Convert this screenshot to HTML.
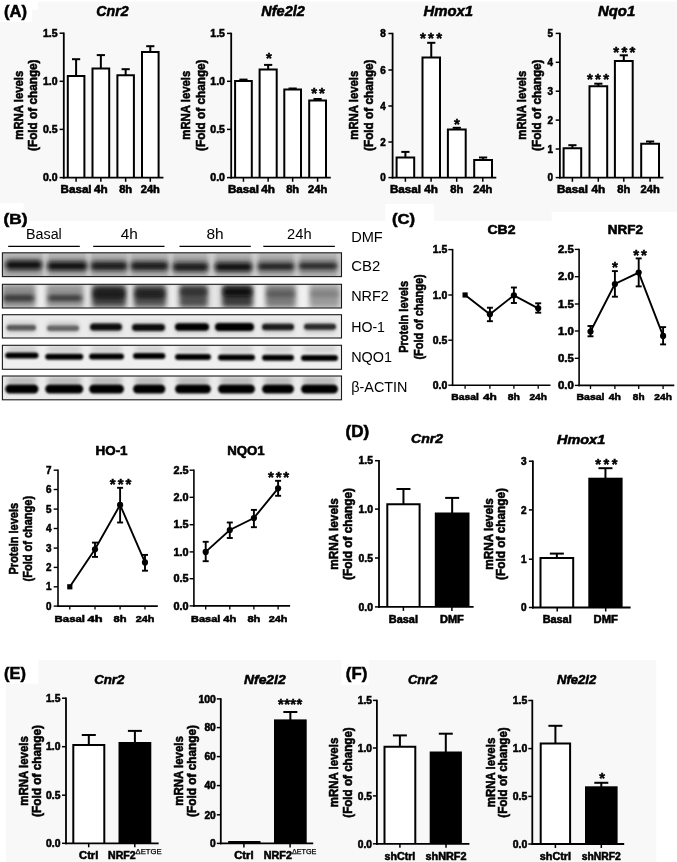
<!DOCTYPE html>
<html><head><meta charset="utf-8"><style>
html,body{margin:0;padding:0;background:#fff;}
svg{display:block;filter:grayscale(1);}
</style></head><body>
<svg width="677" height="862" viewBox="0 0 677 862" font-family='"Liberation Sans", sans-serif'>
<defs><filter id="bl1" x="-20%" y="-60%" width="140%" height="220%"><feGaussianBlur stdDeviation="1.9"/></filter><filter id="bl3" x="-20%" y="-60%" width="140%" height="220%"><feGaussianBlur stdDeviation="1.25"/></filter><filter id="bl2" x="-20%" y="-50%" width="140%" height="200%"><feGaussianBlur stdDeviation="2.6"/></filter></defs>
<rect x="0.00" y="0.00" width="677.00" height="862.00" fill="#ffffff" />
<rect x="0.00" y="0.00" width="677.00" height="203.00" fill="#f8f8f8" />
<rect x="0.00" y="0.00" width="677.00" height="1.50" fill="#ffffff" />
<rect x="0.00" y="0.00" width="38.00" height="10.00" fill="#ffffff" />
<rect x="0.00" y="0.00" width="32.00" height="22.00" fill="#ffffff" />
<rect x="23.60" y="203.00" width="528.10" height="18.00" fill="#f8f8f8" />
<rect x="551.70" y="203.00" width="125.30" height="9.00" fill="#f8f8f8" />
<rect x="385.30" y="204.00" width="48.80" height="17.00" fill="#ffffff" />
<rect x="5.90" y="660.00" width="650.40" height="202.00" fill="#f8f8f8" />
<rect x="0.00" y="660.00" width="38.40" height="23.70" fill="#ffffff" />
<rect x="341.40" y="660.00" width="27.30" height="25.00" fill="#ffffff" />
<text x="4.00" y="17.40" font-size="17" text-anchor="start" font-weight="bold" font-style="normal" fill="#000" stroke="#000" stroke-width="0.55" textLength="23.00" lengthAdjust="spacingAndGlyphs" >(A)</text>
<text x="3.50" y="223.60" font-size="15.5" text-anchor="start" font-weight="bold" font-style="normal" fill="#000" stroke="#000" stroke-width="0.55" textLength="24.00" lengthAdjust="spacingAndGlyphs" >(B)</text>
<text x="391.90" y="224.30" font-size="15.5" text-anchor="start" font-weight="bold" font-style="normal" fill="#000" stroke="#000" stroke-width="0.55" textLength="23.20" lengthAdjust="spacingAndGlyphs" >(C)</text>
<text x="345.60" y="436.80" font-size="16" text-anchor="start" font-weight="bold" font-style="normal" fill="#000" stroke="#000" stroke-width="0.55" textLength="23.60" lengthAdjust="spacingAndGlyphs" >(D)</text>
<text x="4.10" y="678.60" font-size="17" text-anchor="start" font-weight="bold" font-style="normal" fill="#000" stroke="#000" stroke-width="0.55" textLength="21.90" lengthAdjust="spacingAndGlyphs" >(E)</text>
<text x="345.80" y="679.00" font-size="17" text-anchor="start" font-weight="bold" font-style="normal" fill="#000" stroke="#000" stroke-width="0.55" textLength="21.50" lengthAdjust="spacingAndGlyphs" >(F)</text>
<line x1="76.10" y1="59.20" x2="76.10" y2="76.10" stroke="#000" stroke-width="2.0"/>
<line x1="72.00" y1="59.20" x2="80.20" y2="59.20" stroke="#000" stroke-width="2.0"/>
<path d="M67.80,177.60 V76.10 H84.40 V177.60" fill="#fff" stroke="#000" stroke-width="2.0"/>
<line x1="100.85" y1="55.10" x2="100.85" y2="68.60" stroke="#000" stroke-width="2.0"/>
<line x1="96.75" y1="55.10" x2="104.95" y2="55.10" stroke="#000" stroke-width="2.0"/>
<path d="M92.50,177.60 V68.60 H109.20 V177.60" fill="#fff" stroke="#000" stroke-width="2.0"/>
<line x1="125.65" y1="69.20" x2="125.65" y2="75.30" stroke="#000" stroke-width="2.0"/>
<line x1="121.55" y1="69.20" x2="129.75" y2="69.20" stroke="#000" stroke-width="2.0"/>
<path d="M117.40,177.60 V75.30 H133.90 V177.60" fill="#fff" stroke="#000" stroke-width="2.0"/>
<line x1="150.30" y1="46.20" x2="150.30" y2="51.90" stroke="#000" stroke-width="2.0"/>
<line x1="146.20" y1="46.20" x2="154.40" y2="46.20" stroke="#000" stroke-width="2.0"/>
<path d="M142.00,177.60 V51.90 H158.60 V177.60" fill="#fff" stroke="#000" stroke-width="2.0"/>
<line x1="63.80" y1="32.50" x2="63.80" y2="178.50" stroke="#000" stroke-width="1.8"/>
<line x1="62.90" y1="177.60" x2="163.40" y2="177.60" stroke="#000" stroke-width="1.8"/>
<line x1="59.60" y1="33.20" x2="63.80" y2="33.20" stroke="#000" stroke-width="1.5"/>
<text x="57.50" y="37.00" font-size="10.5" text-anchor="end" font-weight="bold" font-style="normal" fill="#000" stroke="#000" stroke-width="0.55" textLength="14.60" lengthAdjust="spacingAndGlyphs" >1.5</text>
<line x1="59.60" y1="81.30" x2="63.80" y2="81.30" stroke="#000" stroke-width="1.5"/>
<text x="57.50" y="85.10" font-size="10.5" text-anchor="end" font-weight="bold" font-style="normal" fill="#000" stroke="#000" stroke-width="0.55" textLength="14.60" lengthAdjust="spacingAndGlyphs" >1.0</text>
<line x1="59.60" y1="129.40" x2="63.80" y2="129.40" stroke="#000" stroke-width="1.5"/>
<text x="57.50" y="133.20" font-size="10.5" text-anchor="end" font-weight="bold" font-style="normal" fill="#000" stroke="#000" stroke-width="0.55" textLength="14.60" lengthAdjust="spacingAndGlyphs" >0.5</text>
<line x1="59.60" y1="177.60" x2="63.80" y2="177.60" stroke="#000" stroke-width="1.5"/>
<text x="57.50" y="181.40" font-size="10.5" text-anchor="end" font-weight="bold" font-style="normal" fill="#000" stroke="#000" stroke-width="0.55" textLength="14.60" lengthAdjust="spacingAndGlyphs" >0.0</text>
<line x1="76.10" y1="177.60" x2="76.10" y2="181.80" stroke="#000" stroke-width="1.5"/>
<line x1="100.85" y1="177.60" x2="100.85" y2="181.80" stroke="#000" stroke-width="1.5"/>
<line x1="125.65" y1="177.60" x2="125.65" y2="181.80" stroke="#000" stroke-width="1.5"/>
<line x1="150.30" y1="177.60" x2="150.30" y2="181.80" stroke="#000" stroke-width="1.5"/>
<text x="96.30" y="16.20" font-size="15" text-anchor="start" font-weight="bold" font-style="italic" fill="#000" stroke="#000" stroke-width="0.55" textLength="32.30" lengthAdjust="spacingAndGlyphs" >Cnr2</text>
<text x="76.10" y="192.90" font-size="10.2" text-anchor="middle" font-weight="bold" font-style="normal" fill="#000" stroke="#000" stroke-width="0.55" textLength="31.00" lengthAdjust="spacingAndGlyphs" >Basal</text>
<text x="100.85" y="192.90" font-size="10.2" text-anchor="middle" font-weight="bold" font-style="normal" fill="#000" stroke="#000" stroke-width="0.55" textLength="13.70" lengthAdjust="spacingAndGlyphs" >4h</text>
<text x="125.65" y="192.90" font-size="10.2" text-anchor="middle" font-weight="bold" font-style="normal" fill="#000" stroke="#000" stroke-width="0.55" textLength="13.00" lengthAdjust="spacingAndGlyphs" >8h</text>
<text x="150.30" y="192.90" font-size="10.2" text-anchor="middle" font-weight="bold" font-style="normal" fill="#000" stroke="#000" stroke-width="0.55" textLength="19.20" lengthAdjust="spacingAndGlyphs" >24h</text>
<text transform="translate(23.00,105.20) rotate(-90)" x="0" y="0" font-size="13.0" text-anchor="middle" font-weight="bold" stroke="#000" stroke-width="0.55" textLength="69.00" lengthAdjust="spacingAndGlyphs">mRNA levels</text>
<text transform="translate(36.60,105.20) rotate(-90)" x="0" y="0" font-size="12.4" text-anchor="middle" font-weight="bold" stroke="#000" stroke-width="0.55" textLength="91.50" lengthAdjust="spacingAndGlyphs">(Fold of change)</text>
<line x1="243.45" y1="79.60" x2="243.45" y2="81.10" stroke="#000" stroke-width="2.0"/>
<line x1="239.35" y1="79.60" x2="247.55" y2="79.60" stroke="#000" stroke-width="2.0"/>
<path d="M235.10,177.60 V81.10 H251.80 V177.60" fill="#fff" stroke="#000" stroke-width="2.0"/>
<line x1="268.15" y1="64.90" x2="268.15" y2="69.60" stroke="#000" stroke-width="2.0"/>
<line x1="264.05" y1="64.90" x2="272.25" y2="64.90" stroke="#000" stroke-width="2.0"/>
<path d="M259.60,177.60 V69.60 H276.70 V177.60" fill="#fff" stroke="#000" stroke-width="2.0"/>
<line x1="292.65" y1="88.50" x2="292.65" y2="89.60" stroke="#000" stroke-width="2.0"/>
<line x1="288.55" y1="88.50" x2="296.75" y2="88.50" stroke="#000" stroke-width="2.0"/>
<path d="M284.30,177.60 V89.60 H301.00 V177.60" fill="#fff" stroke="#000" stroke-width="2.0"/>
<line x1="317.60" y1="99.00" x2="317.60" y2="100.60" stroke="#000" stroke-width="2.0"/>
<line x1="313.50" y1="99.00" x2="321.70" y2="99.00" stroke="#000" stroke-width="2.0"/>
<path d="M309.20,177.60 V100.60 H326.00 V177.60" fill="#fff" stroke="#000" stroke-width="2.0"/>
<line x1="231.20" y1="32.70" x2="231.20" y2="178.50" stroke="#000" stroke-width="1.8"/>
<line x1="230.30" y1="177.60" x2="330.80" y2="177.60" stroke="#000" stroke-width="1.8"/>
<line x1="227.00" y1="33.40" x2="231.20" y2="33.40" stroke="#000" stroke-width="1.5"/>
<text x="224.90" y="37.20" font-size="10.5" text-anchor="end" font-weight="bold" font-style="normal" fill="#000" stroke="#000" stroke-width="0.55" textLength="14.60" lengthAdjust="spacingAndGlyphs" >1.5</text>
<line x1="227.00" y1="81.30" x2="231.20" y2="81.30" stroke="#000" stroke-width="1.5"/>
<text x="224.90" y="85.10" font-size="10.5" text-anchor="end" font-weight="bold" font-style="normal" fill="#000" stroke="#000" stroke-width="0.55" textLength="14.60" lengthAdjust="spacingAndGlyphs" >1.0</text>
<line x1="227.00" y1="129.40" x2="231.20" y2="129.40" stroke="#000" stroke-width="1.5"/>
<text x="224.90" y="133.20" font-size="10.5" text-anchor="end" font-weight="bold" font-style="normal" fill="#000" stroke="#000" stroke-width="0.55" textLength="14.60" lengthAdjust="spacingAndGlyphs" >0.5</text>
<line x1="227.00" y1="177.60" x2="231.20" y2="177.60" stroke="#000" stroke-width="1.5"/>
<text x="224.90" y="181.40" font-size="10.5" text-anchor="end" font-weight="bold" font-style="normal" fill="#000" stroke="#000" stroke-width="0.55" textLength="14.60" lengthAdjust="spacingAndGlyphs" >0.0</text>
<line x1="243.45" y1="177.60" x2="243.45" y2="181.80" stroke="#000" stroke-width="1.5"/>
<line x1="268.15" y1="177.60" x2="268.15" y2="181.80" stroke="#000" stroke-width="1.5"/>
<line x1="292.65" y1="177.60" x2="292.65" y2="181.80" stroke="#000" stroke-width="1.5"/>
<line x1="317.60" y1="177.60" x2="317.60" y2="181.80" stroke="#000" stroke-width="1.5"/>
<text x="268.90" y="63.27" font-size="15.00" text-anchor="middle" font-weight="bold" stroke="#000" stroke-width="0.5">*</text>
<text x="314.20" y="98.28" font-size="15.00" text-anchor="middle" font-weight="bold" stroke="#000" stroke-width="0.5">*</text>
<text x="321.80" y="98.28" font-size="15.00" text-anchor="middle" font-weight="bold" stroke="#000" stroke-width="0.5">*</text>
<text x="261.30" y="16.20" font-size="15" text-anchor="start" font-weight="bold" font-style="italic" fill="#000" stroke="#000" stroke-width="0.55" textLength="43.50" lengthAdjust="spacingAndGlyphs" >Nfe2l2</text>
<text x="243.45" y="192.90" font-size="10.2" text-anchor="middle" font-weight="bold" font-style="normal" fill="#000" stroke="#000" stroke-width="0.55" textLength="31.00" lengthAdjust="spacingAndGlyphs" >Basal</text>
<text x="268.15" y="192.90" font-size="10.2" text-anchor="middle" font-weight="bold" font-style="normal" fill="#000" stroke="#000" stroke-width="0.55" textLength="13.70" lengthAdjust="spacingAndGlyphs" >4h</text>
<text x="292.65" y="192.90" font-size="10.2" text-anchor="middle" font-weight="bold" font-style="normal" fill="#000" stroke="#000" stroke-width="0.55" textLength="13.00" lengthAdjust="spacingAndGlyphs" >8h</text>
<text x="317.60" y="192.90" font-size="10.2" text-anchor="middle" font-weight="bold" font-style="normal" fill="#000" stroke="#000" stroke-width="0.55" textLength="19.20" lengthAdjust="spacingAndGlyphs" >24h</text>
<text transform="translate(189.80,105.20) rotate(-90)" x="0" y="0" font-size="13.0" text-anchor="middle" font-weight="bold" stroke="#000" stroke-width="0.55" textLength="69.00" lengthAdjust="spacingAndGlyphs">mRNA levels</text>
<text transform="translate(204.60,105.20) rotate(-90)" x="0" y="0" font-size="12.4" text-anchor="middle" font-weight="bold" stroke="#000" stroke-width="0.55" textLength="91.50" lengthAdjust="spacingAndGlyphs">(Fold of change)</text>
<line x1="405.40" y1="151.90" x2="405.40" y2="157.50" stroke="#000" stroke-width="2.0"/>
<line x1="401.30" y1="151.90" x2="409.50" y2="151.90" stroke="#000" stroke-width="2.0"/>
<path d="M396.60,177.60 V157.50 H414.20 V177.60" fill="#fff" stroke="#000" stroke-width="2.0"/>
<line x1="431.25" y1="42.80" x2="431.25" y2="57.60" stroke="#000" stroke-width="2.0"/>
<line x1="427.15" y1="42.80" x2="435.35" y2="42.80" stroke="#000" stroke-width="2.0"/>
<path d="M422.50,177.60 V57.60 H440.00 V177.60" fill="#fff" stroke="#000" stroke-width="2.0"/>
<line x1="456.80" y1="127.80" x2="456.80" y2="129.60" stroke="#000" stroke-width="2.0"/>
<line x1="452.70" y1="127.80" x2="460.90" y2="127.80" stroke="#000" stroke-width="2.0"/>
<path d="M447.90,177.60 V129.60 H465.70 V177.60" fill="#fff" stroke="#000" stroke-width="2.0"/>
<line x1="483.10" y1="157.50" x2="483.10" y2="160.00" stroke="#000" stroke-width="2.0"/>
<line x1="479.00" y1="157.50" x2="487.20" y2="157.50" stroke="#000" stroke-width="2.0"/>
<path d="M474.20,177.60 V160.00 H492.00 V177.60" fill="#fff" stroke="#000" stroke-width="2.0"/>
<line x1="392.60" y1="32.80" x2="392.60" y2="178.50" stroke="#000" stroke-width="1.8"/>
<line x1="391.70" y1="177.60" x2="496.30" y2="177.60" stroke="#000" stroke-width="1.8"/>
<line x1="388.40" y1="33.50" x2="392.60" y2="33.50" stroke="#000" stroke-width="1.5"/>
<text x="385.70" y="37.30" font-size="10.5" text-anchor="end" font-weight="bold" font-style="normal" fill="#000" stroke="#000" stroke-width="0.55" textLength="5.50" lengthAdjust="spacingAndGlyphs" >8</text>
<line x1="388.40" y1="70.00" x2="392.60" y2="70.00" stroke="#000" stroke-width="1.5"/>
<text x="385.70" y="73.80" font-size="10.5" text-anchor="end" font-weight="bold" font-style="normal" fill="#000" stroke="#000" stroke-width="0.55" textLength="5.50" lengthAdjust="spacingAndGlyphs" >6</text>
<line x1="388.40" y1="106.00" x2="392.60" y2="106.00" stroke="#000" stroke-width="1.5"/>
<text x="385.70" y="109.80" font-size="10.5" text-anchor="end" font-weight="bold" font-style="normal" fill="#000" stroke="#000" stroke-width="0.55" textLength="5.50" lengthAdjust="spacingAndGlyphs" >4</text>
<line x1="388.40" y1="142.00" x2="392.60" y2="142.00" stroke="#000" stroke-width="1.5"/>
<text x="385.70" y="145.80" font-size="10.5" text-anchor="end" font-weight="bold" font-style="normal" fill="#000" stroke="#000" stroke-width="0.55" textLength="5.50" lengthAdjust="spacingAndGlyphs" >2</text>
<line x1="388.40" y1="177.60" x2="392.60" y2="177.60" stroke="#000" stroke-width="1.5"/>
<text x="385.70" y="181.40" font-size="10.5" text-anchor="end" font-weight="bold" font-style="normal" fill="#000" stroke="#000" stroke-width="0.55" textLength="5.50" lengthAdjust="spacingAndGlyphs" >0</text>
<line x1="405.40" y1="177.60" x2="405.40" y2="181.80" stroke="#000" stroke-width="1.5"/>
<line x1="431.10" y1="177.60" x2="431.10" y2="181.80" stroke="#000" stroke-width="1.5"/>
<line x1="456.70" y1="177.60" x2="456.70" y2="181.80" stroke="#000" stroke-width="1.5"/>
<line x1="482.80" y1="177.60" x2="482.80" y2="181.80" stroke="#000" stroke-width="1.5"/>
<text x="422.85" y="42.98" font-size="15.00" text-anchor="middle" font-weight="bold" stroke="#000" stroke-width="0.5">*</text>
<text x="430.95" y="42.98" font-size="15.00" text-anchor="middle" font-weight="bold" stroke="#000" stroke-width="0.5">*</text>
<text x="439.05" y="42.98" font-size="15.00" text-anchor="middle" font-weight="bold" stroke="#000" stroke-width="0.5">*</text>
<text x="456.80" y="129.28" font-size="15.00" text-anchor="middle" font-weight="bold" stroke="#000" stroke-width="0.5">*</text>
<text x="423.50" y="16.20" font-size="15" text-anchor="start" font-weight="bold" font-style="italic" fill="#000" stroke="#000" stroke-width="0.55" textLength="49.60" lengthAdjust="spacingAndGlyphs" >Hmox1</text>
<text x="405.40" y="192.90" font-size="10.2" text-anchor="middle" font-weight="bold" font-style="normal" fill="#000" stroke="#000" stroke-width="0.55" textLength="31.00" lengthAdjust="spacingAndGlyphs" >Basal</text>
<text x="431.10" y="192.90" font-size="10.2" text-anchor="middle" font-weight="bold" font-style="normal" fill="#000" stroke="#000" stroke-width="0.55" textLength="13.70" lengthAdjust="spacingAndGlyphs" >4h</text>
<text x="456.70" y="192.90" font-size="10.2" text-anchor="middle" font-weight="bold" font-style="normal" fill="#000" stroke="#000" stroke-width="0.55" textLength="13.00" lengthAdjust="spacingAndGlyphs" >8h</text>
<text x="482.80" y="192.90" font-size="10.2" text-anchor="middle" font-weight="bold" font-style="normal" fill="#000" stroke="#000" stroke-width="0.55" textLength="19.20" lengthAdjust="spacingAndGlyphs" >24h</text>
<text transform="translate(357.90,105.20) rotate(-90)" x="0" y="0" font-size="13.0" text-anchor="middle" font-weight="bold" stroke="#000" stroke-width="0.55" textLength="69.00" lengthAdjust="spacingAndGlyphs">mRNA levels</text>
<text transform="translate(372.70,105.20) rotate(-90)" x="0" y="0" font-size="12.4" text-anchor="middle" font-weight="bold" stroke="#000" stroke-width="0.55" textLength="91.50" lengthAdjust="spacingAndGlyphs">(Fold of change)</text>
<line x1="572.40" y1="145.20" x2="572.40" y2="148.20" stroke="#000" stroke-width="2.0"/>
<line x1="568.30" y1="145.20" x2="576.50" y2="145.20" stroke="#000" stroke-width="2.0"/>
<path d="M563.60,177.60 V148.20 H581.20 V177.60" fill="#fff" stroke="#000" stroke-width="2.0"/>
<line x1="598.35" y1="83.70" x2="598.35" y2="86.20" stroke="#000" stroke-width="2.0"/>
<line x1="594.25" y1="83.70" x2="602.45" y2="83.70" stroke="#000" stroke-width="2.0"/>
<path d="M589.50,177.60 V86.20 H607.20 V177.60" fill="#fff" stroke="#000" stroke-width="2.0"/>
<line x1="623.80" y1="55.30" x2="623.80" y2="61.00" stroke="#000" stroke-width="2.0"/>
<line x1="619.70" y1="55.30" x2="627.90" y2="55.30" stroke="#000" stroke-width="2.0"/>
<path d="M614.90,177.60 V61.00 H632.70 V177.60" fill="#fff" stroke="#000" stroke-width="2.0"/>
<line x1="650.10" y1="141.50" x2="650.10" y2="143.70" stroke="#000" stroke-width="2.0"/>
<line x1="646.00" y1="141.50" x2="654.20" y2="141.50" stroke="#000" stroke-width="2.0"/>
<path d="M641.20,177.60 V143.70 H659.00 V177.60" fill="#fff" stroke="#000" stroke-width="2.0"/>
<line x1="559.90" y1="32.70" x2="559.90" y2="178.50" stroke="#000" stroke-width="1.8"/>
<line x1="559.00" y1="177.60" x2="663.40" y2="177.60" stroke="#000" stroke-width="1.8"/>
<line x1="555.70" y1="33.40" x2="559.90" y2="33.40" stroke="#000" stroke-width="1.5"/>
<text x="553.00" y="37.20" font-size="10.5" text-anchor="end" font-weight="bold" font-style="normal" fill="#000" stroke="#000" stroke-width="0.55" textLength="5.50" lengthAdjust="spacingAndGlyphs" >5</text>
<line x1="555.70" y1="62.30" x2="559.90" y2="62.30" stroke="#000" stroke-width="1.5"/>
<text x="553.00" y="66.10" font-size="10.5" text-anchor="end" font-weight="bold" font-style="normal" fill="#000" stroke="#000" stroke-width="0.55" textLength="5.50" lengthAdjust="spacingAndGlyphs" >4</text>
<line x1="555.70" y1="91.20" x2="559.90" y2="91.20" stroke="#000" stroke-width="1.5"/>
<text x="553.00" y="95.00" font-size="10.5" text-anchor="end" font-weight="bold" font-style="normal" fill="#000" stroke="#000" stroke-width="0.55" textLength="5.50" lengthAdjust="spacingAndGlyphs" >3</text>
<line x1="555.70" y1="120.10" x2="559.90" y2="120.10" stroke="#000" stroke-width="1.5"/>
<text x="553.00" y="123.90" font-size="10.5" text-anchor="end" font-weight="bold" font-style="normal" fill="#000" stroke="#000" stroke-width="0.55" textLength="5.50" lengthAdjust="spacingAndGlyphs" >2</text>
<line x1="555.70" y1="149.00" x2="559.90" y2="149.00" stroke="#000" stroke-width="1.5"/>
<text x="553.00" y="152.80" font-size="10.5" text-anchor="end" font-weight="bold" font-style="normal" fill="#000" stroke="#000" stroke-width="0.55" textLength="5.50" lengthAdjust="spacingAndGlyphs" >1</text>
<line x1="555.70" y1="177.60" x2="559.90" y2="177.60" stroke="#000" stroke-width="1.5"/>
<text x="553.00" y="181.40" font-size="10.5" text-anchor="end" font-weight="bold" font-style="normal" fill="#000" stroke="#000" stroke-width="0.55" textLength="5.50" lengthAdjust="spacingAndGlyphs" >0</text>
<line x1="572.40" y1="177.60" x2="572.40" y2="181.80" stroke="#000" stroke-width="1.5"/>
<line x1="598.30" y1="177.60" x2="598.30" y2="181.80" stroke="#000" stroke-width="1.5"/>
<line x1="623.80" y1="177.60" x2="623.80" y2="181.80" stroke="#000" stroke-width="1.5"/>
<line x1="650.10" y1="177.60" x2="650.10" y2="181.80" stroke="#000" stroke-width="1.5"/>
<text x="589.85" y="84.47" font-size="15.00" text-anchor="middle" font-weight="bold" stroke="#000" stroke-width="0.5">*</text>
<text x="598.00" y="84.47" font-size="15.00" text-anchor="middle" font-weight="bold" stroke="#000" stroke-width="0.5">*</text>
<text x="606.15" y="84.47" font-size="15.00" text-anchor="middle" font-weight="bold" stroke="#000" stroke-width="0.5">*</text>
<text x="616.15" y="56.88" font-size="15.00" text-anchor="middle" font-weight="bold" stroke="#000" stroke-width="0.5">*</text>
<text x="624.30" y="56.88" font-size="15.00" text-anchor="middle" font-weight="bold" stroke="#000" stroke-width="0.5">*</text>
<text x="632.45" y="56.88" font-size="15.00" text-anchor="middle" font-weight="bold" stroke="#000" stroke-width="0.5">*</text>
<text x="598.00" y="16.20" font-size="15" text-anchor="start" font-weight="bold" font-style="italic" fill="#000" stroke="#000" stroke-width="0.55" textLength="37.20" lengthAdjust="spacingAndGlyphs" >Nqo1</text>
<text x="572.40" y="192.90" font-size="10.2" text-anchor="middle" font-weight="bold" font-style="normal" fill="#000" stroke="#000" stroke-width="0.55" textLength="31.00" lengthAdjust="spacingAndGlyphs" >Basal</text>
<text x="598.30" y="192.90" font-size="10.2" text-anchor="middle" font-weight="bold" font-style="normal" fill="#000" stroke="#000" stroke-width="0.55" textLength="13.70" lengthAdjust="spacingAndGlyphs" >4h</text>
<text x="623.80" y="192.90" font-size="10.2" text-anchor="middle" font-weight="bold" font-style="normal" fill="#000" stroke="#000" stroke-width="0.55" textLength="13.00" lengthAdjust="spacingAndGlyphs" >8h</text>
<text x="650.10" y="192.90" font-size="10.2" text-anchor="middle" font-weight="bold" font-style="normal" fill="#000" stroke="#000" stroke-width="0.55" textLength="19.20" lengthAdjust="spacingAndGlyphs" >24h</text>
<text transform="translate(525.90,105.20) rotate(-90)" x="0" y="0" font-size="13.0" text-anchor="middle" font-weight="bold" stroke="#000" stroke-width="0.55" textLength="69.00" lengthAdjust="spacingAndGlyphs">mRNA levels</text>
<text transform="translate(540.50,105.20) rotate(-90)" x="0" y="0" font-size="12.4" text-anchor="middle" font-weight="bold" stroke="#000" stroke-width="0.55" textLength="91.50" lengthAdjust="spacingAndGlyphs">(Fold of change)</text>
<text x="26.00" y="239.20" font-size="13.8" text-anchor="start" font-weight="normal" font-style="normal" fill="#000" textLength="35.80" lengthAdjust="spacingAndGlyphs" >Basal</text>
<text x="120.80" y="239.20" font-size="13.8" text-anchor="start" font-weight="normal" font-style="normal" fill="#000" textLength="17.10" lengthAdjust="spacingAndGlyphs" >4h</text>
<text x="206.40" y="239.20" font-size="13.8" text-anchor="start" font-weight="normal" font-style="normal" fill="#000" textLength="17.20" lengthAdjust="spacingAndGlyphs" >8h</text>
<text x="287.10" y="239.20" font-size="13.8" text-anchor="start" font-weight="normal" font-style="normal" fill="#000" textLength="24.50" lengthAdjust="spacingAndGlyphs" >24h</text>
<line x1="8.20" y1="246.30" x2="79.80" y2="246.30" stroke="#000" stroke-width="1.3"/>
<line x1="93.20" y1="246.30" x2="164.50" y2="246.30" stroke="#000" stroke-width="1.3"/>
<line x1="179.50" y1="246.30" x2="250.80" y2="246.30" stroke="#000" stroke-width="1.3"/>
<line x1="263.30" y1="246.30" x2="334.90" y2="246.30" stroke="#000" stroke-width="1.3"/>
<text x="351.20" y="242.40" font-size="13.8" text-anchor="start" font-weight="normal" font-style="normal" fill="#000" textLength="31.60" lengthAdjust="spacingAndGlyphs" >DMF</text>
<text x="351.20" y="270.60" font-size="13.8" text-anchor="start" font-weight="normal" font-style="normal" fill="#000" textLength="29.00" lengthAdjust="spacingAndGlyphs" >CB2</text>
<text x="351.20" y="301.00" font-size="13.8" text-anchor="start" font-weight="normal" font-style="normal" fill="#000" textLength="37.60" lengthAdjust="spacingAndGlyphs" >NRF2</text>
<text x="351.20" y="331.90" font-size="13.8" text-anchor="start" font-weight="normal" font-style="normal" fill="#000" textLength="33.80" lengthAdjust="spacingAndGlyphs" >HO-1</text>
<text x="351.20" y="362.00" font-size="13.8" text-anchor="start" font-weight="normal" font-style="normal" fill="#000" textLength="40.80" lengthAdjust="spacingAndGlyphs" >NQO1</text>
<text x="351.20" y="391.80" font-size="13.8" text-anchor="start" font-weight="normal" font-style="normal" fill="#000" textLength="56.30" lengthAdjust="spacingAndGlyphs" >β-ACTIN</text>
<defs>
<clipPath id="cp_cb2"><rect x="2.4" y="252.8" width="339.1" height="23.80000000000001"/></clipPath>
<clipPath id="cp_nrf2"><rect x="2.4" y="284.3" width="339.1" height="23.69999999999999"/></clipPath>
<clipPath id="cp_ho1"><rect x="2.4" y="314.7" width="339.1" height="23.30000000000001"/></clipPath>
<clipPath id="cp_nqo1"><rect x="2.4" y="345.5" width="339.1" height="23.5"/></clipPath>
<clipPath id="cp_act"><rect x="2.4" y="375.9" width="339.1" height="23.80000000000001"/></clipPath>
</defs>
<g clip-path="url(#cp_cb2)">
<rect x="2.40" y="252.80" width="339.10" height="23.80" fill="#b8b8b8" />
<rect x="43" y="249.8" width="5" height="29.80000000000001" fill="#d4d4d4" filter="url(#bl2)"/>
<rect x="86" y="249.8" width="5" height="29.80000000000001" fill="#d2d2d2" filter="url(#bl2)"/>
<rect x="127" y="249.8" width="4" height="29.80000000000001" fill="#cccccc" filter="url(#bl2)"/>
<rect x="168" y="249.8" width="5" height="29.80000000000001" fill="#cfcfcf" filter="url(#bl2)"/>
<rect x="208" y="249.8" width="7" height="29.80000000000001" fill="#d2d2d2" filter="url(#bl2)"/>
<rect x="252" y="249.8" width="6" height="29.80000000000001" fill="#d4d4d4" filter="url(#bl2)"/>
<rect x="294" y="249.8" width="6" height="29.80000000000001" fill="#d0d0d0" filter="url(#bl2)"/>
<rect x="337" y="249.8" width="5" height="29.80000000000001" fill="#d0d0d0" filter="url(#bl2)"/>
<rect x="5.5" y="258" width="36.5" height="16" rx="3" fill="#8e8e8e" filter="url(#bl2)"/>
<rect x="47.5" y="258" width="39.5" height="16" rx="3" fill="#8e8e8e" filter="url(#bl2)"/>
<rect x="91" y="258" width="36" height="16" rx="3" fill="#8e8e8e" filter="url(#bl2)"/>
<rect x="131" y="258" width="37" height="16" rx="3" fill="#8e8e8e" filter="url(#bl2)"/>
<rect x="173" y="258" width="35" height="16" rx="3" fill="#8e8e8e" filter="url(#bl2)"/>
<rect x="215" y="258" width="37" height="16" rx="3" fill="#8e8e8e" filter="url(#bl2)"/>
<rect x="258" y="258" width="36" height="16" rx="3" fill="#8e8e8e" filter="url(#bl2)"/>
<rect x="299" y="258" width="38" height="16" rx="3" fill="#8e8e8e" filter="url(#bl2)"/>
<rect x="5.5" y="260.75" width="36.5" height="8.5" rx="4.25" fill="#0d0d0d" filter="url(#bl1)"/>
<rect x="47.5" y="262.0" width="39.5" height="8" rx="4.0" fill="#111" filter="url(#bl1)"/>
<rect x="91" y="262.25" width="36" height="7.5" rx="3.75" fill="#151515" filter="url(#bl1)"/>
<rect x="131" y="262.25" width="37" height="7.5" rx="3.75" fill="#151515" filter="url(#bl1)"/>
<rect x="173" y="263.25" width="35" height="7.5" rx="3.75" fill="#151515" filter="url(#bl1)"/>
<rect x="215" y="263.0" width="37" height="8" rx="4.0" fill="#0d0d0d" filter="url(#bl1)"/>
<rect x="258" y="263.25" width="36" height="6.5" rx="3.25" fill="#1a1a1a" filter="url(#bl1)"/>
<rect x="299" y="263.0" width="38" height="6" rx="3.0" fill="#222" filter="url(#bl1)"/>
</g>
<rect x="2.40" y="252.80" width="339.10" height="23.80" fill="none" stroke="#1a1a1a" stroke-width="1.1" />
<g clip-path="url(#cp_nrf2)">
<rect x="2.40" y="284.30" width="339.10" height="23.70" fill="#d6d6d6" />
<rect x="36" y="281.3" width="10" height="29.69999999999999" fill="#ececec" filter="url(#bl2)"/>
<rect x="84" y="281.3" width="7" height="29.69999999999999" fill="#e6e6e6" filter="url(#bl2)"/>
<rect x="127" y="281.3" width="6" height="29.69999999999999" fill="#e6e6e6" filter="url(#bl2)"/>
<rect x="167" y="281.3" width="11" height="29.69999999999999" fill="#eaeaea" filter="url(#bl2)"/>
<rect x="209" y="281.3" width="12" height="29.69999999999999" fill="#e4e4e4" filter="url(#bl2)"/>
<rect x="254" y="281.3" width="11" height="29.69999999999999" fill="#eeeeee" filter="url(#bl2)"/>
<rect x="297" y="281.3" width="12" height="29.69999999999999" fill="#f0f0f0" filter="url(#bl2)"/>
<rect x="2.5" y="285" width="32.5" height="22" rx="3" fill="#8c8c8c" filter="url(#bl2)"/>
<rect x="47" y="285" width="36" height="22" rx="3" fill="#949494" filter="url(#bl2)"/>
<rect x="92" y="285" width="34" height="22" rx="3" fill="#4a4a4a" filter="url(#bl2)"/>
<rect x="134" y="285" width="32" height="22" rx="3" fill="#555" filter="url(#bl2)"/>
<rect x="179.6" y="285" width="28.0" height="22" rx="3" fill="#505050" filter="url(#bl2)"/>
<rect x="222.2" y="285" width="30.600000000000023" height="22" rx="3" fill="#3a3a3a" filter="url(#bl2)"/>
<rect x="266" y="285" width="29.30000000000001" height="22" rx="3" fill="#7a7a7a" filter="url(#bl2)"/>
<rect x="310" y="285" width="29.19999999999999" height="22" rx="3" fill="#9a9a9a" filter="url(#bl2)"/>
<rect x="3.5" y="295.25" width="30.5" height="5.5" rx="2.75" fill="#2a2a2a" filter="url(#bl1)"/>
<rect x="48" y="295.25" width="34" height="5.5" rx="2.75" fill="#333" filter="url(#bl1)"/>
<rect x="93" y="288.5" width="32" height="11" rx="5.5" fill="#1a1a1a" filter="url(#bl1)"/>
<rect x="135" y="289.0" width="30" height="10" rx="5.0" fill="#202020" filter="url(#bl1)"/>
<rect x="180.6" y="288.5" width="26.0" height="7" rx="3.5" fill="#333" filter="url(#bl1)"/>
<rect x="223.2" y="288.0" width="28.600000000000023" height="8" rx="4.0" fill="#111" filter="url(#bl1)"/>
<rect x="267" y="291.0" width="27.30000000000001" height="6" rx="3.0" fill="#5a5a5a" filter="url(#bl1)"/>
<rect x="311" y="291.0" width="27.19999999999999" height="6" rx="3.0" fill="#808080" filter="url(#bl1)"/>
</g>
<rect x="2.40" y="284.30" width="339.10" height="23.70" fill="none" stroke="#1a1a1a" stroke-width="1.1" />
<g clip-path="url(#cp_ho1)">
<rect x="2.40" y="314.70" width="339.10" height="23.30" fill="#ececec" />
<rect x="6.5" y="322" width="29.5" height="11" rx="3" fill="#c4c4c4" filter="url(#bl2)"/>
<rect x="47" y="322" width="32" height="11" rx="3" fill="#c4c4c4" filter="url(#bl2)"/>
<rect x="90" y="322" width="32" height="11" rx="3" fill="#c4c4c4" filter="url(#bl2)"/>
<rect x="132" y="322" width="33" height="11" rx="3" fill="#c4c4c4" filter="url(#bl2)"/>
<rect x="175" y="322" width="34" height="11" rx="3" fill="#c4c4c4" filter="url(#bl2)"/>
<rect x="215" y="322" width="39" height="11" rx="3" fill="#c4c4c4" filter="url(#bl2)"/>
<rect x="262" y="322" width="32" height="11" rx="3" fill="#c4c4c4" filter="url(#bl2)"/>
<rect x="304" y="322" width="32" height="11" rx="3" fill="#c4c4c4" filter="url(#bl2)"/>
<rect x="6.5" y="325.05" width="29.5" height="5.5" rx="2.75" fill="#5a5a5a" filter="url(#bl3)"/>
<rect x="47" y="325.45" width="32" height="5.5" rx="2.75" fill="#666" filter="url(#bl3)"/>
<rect x="90" y="323.5" width="32" height="7" rx="3.5" fill="#0a0a0a" filter="url(#bl3)"/>
<rect x="132" y="324.0" width="33" height="7" rx="3.5" fill="#0e0e0e" filter="url(#bl3)"/>
<rect x="175" y="323.25" width="34" height="7.5" rx="3.75" fill="#050505" filter="url(#bl3)"/>
<rect x="215" y="323.0" width="39" height="8" rx="4.0" fill="#000" filter="url(#bl3)"/>
<rect x="262" y="323.75" width="32" height="6.5" rx="3.25" fill="#1a1a1a" filter="url(#bl3)"/>
<rect x="304" y="323.8" width="32" height="6" rx="3.0" fill="#2a2a2a" filter="url(#bl3)"/>
</g>
<rect x="2.40" y="314.70" width="339.10" height="23.30" fill="none" stroke="#1a1a1a" stroke-width="1.1" />
<g clip-path="url(#cp_nqo1)">
<rect x="2.40" y="345.30" width="339.10" height="24.00" fill="#efefef" />
<rect x="7.2" y="346.5" width="29.3" height="5.5" rx="3" fill="#c8c8c8" filter="url(#bl2)"/>
<rect x="47.2" y="346.5" width="34.099999999999994" height="5.5" rx="3" fill="#c8c8c8" filter="url(#bl2)"/>
<rect x="91.1" y="346.5" width="30.900000000000006" height="5.5" rx="3" fill="#c8c8c8" filter="url(#bl2)"/>
<rect x="135" y="346.5" width="28.400000000000006" height="5.5" rx="3" fill="#c8c8c8" filter="url(#bl2)"/>
<rect x="177" y="346.5" width="32" height="5.5" rx="3" fill="#c8c8c8" filter="url(#bl2)"/>
<rect x="220" y="346.5" width="33" height="5.5" rx="3" fill="#c8c8c8" filter="url(#bl2)"/>
<rect x="264" y="346.5" width="28" height="5.5" rx="3" fill="#c8c8c8" filter="url(#bl2)"/>
<rect x="303" y="346.5" width="33" height="5.5" rx="3" fill="#c8c8c8" filter="url(#bl2)"/>
<rect x="5.2" y="352.5" width="33.3" height="6.0" rx="3.0" fill="#000" filter="url(#bl3)"/>
<rect x="45.2" y="353.8" width="38.099999999999994" height="6.0" rx="3.0" fill="#000" filter="url(#bl3)"/>
<rect x="89.1" y="353.5" width="34.900000000000006" height="6.0" rx="3.0" fill="#000" filter="url(#bl3)"/>
<rect x="133" y="353.0" width="32.400000000000006" height="6.0" rx="3.0" fill="#000" filter="url(#bl3)"/>
<rect x="175" y="354.0" width="36" height="6.0" rx="3.0" fill="#000" filter="url(#bl3)"/>
<rect x="218" y="354.5" width="37" height="6.0" rx="3.0" fill="#000" filter="url(#bl3)"/>
<rect x="262" y="354.8" width="32" height="6.0" rx="3.0" fill="#000" filter="url(#bl3)"/>
<rect x="301" y="355.0" width="37" height="6.0" rx="3.0" fill="#000" filter="url(#bl3)"/>
</g>
<rect x="2.40" y="345.30" width="339.10" height="24.00" fill="none" stroke="#1a1a1a" stroke-width="1.1" />
<g clip-path="url(#cp_act)">
<rect x="2.40" y="376.00" width="339.10" height="23.80" fill="#ebebeb" />
<rect x="7.2" y="377.5" width="29.3" height="6.5" rx="3" fill="#b0b0b0" filter="url(#bl2)"/>
<rect x="47.2" y="377.5" width="34.099999999999994" height="6.5" rx="3" fill="#b0b0b0" filter="url(#bl2)"/>
<rect x="91.1" y="377.5" width="30.900000000000006" height="6.5" rx="3" fill="#b0b0b0" filter="url(#bl2)"/>
<rect x="135" y="377.5" width="28.400000000000006" height="6.5" rx="3" fill="#b0b0b0" filter="url(#bl2)"/>
<rect x="177" y="377.5" width="32" height="6.5" rx="3" fill="#b0b0b0" filter="url(#bl2)"/>
<rect x="220" y="377.5" width="33" height="6.5" rx="3" fill="#b0b0b0" filter="url(#bl2)"/>
<rect x="264" y="377.5" width="28" height="6.5" rx="3" fill="#b0b0b0" filter="url(#bl2)"/>
<rect x="303" y="377.5" width="33" height="6.5" rx="3" fill="#b0b0b0" filter="url(#bl2)"/>
<rect x="5.2" y="384.5" width="33.3" height="9" rx="4.5" fill="#000" filter="url(#bl3)"/>
<rect x="45.2" y="384.5" width="38.099999999999994" height="9" rx="4.5" fill="#000" filter="url(#bl3)"/>
<rect x="89.1" y="384.5" width="34.900000000000006" height="9" rx="4.5" fill="#000" filter="url(#bl3)"/>
<rect x="133" y="384.5" width="32.400000000000006" height="9" rx="4.5" fill="#000" filter="url(#bl3)"/>
<rect x="175" y="384.5" width="36" height="9" rx="4.5" fill="#000" filter="url(#bl3)"/>
<rect x="218" y="384.5" width="37" height="9" rx="4.5" fill="#000" filter="url(#bl3)"/>
<rect x="262" y="384.5" width="32" height="9" rx="4.5" fill="#000" filter="url(#bl3)"/>
<rect x="301" y="384.5" width="37" height="9" rx="4.5" fill="#000" filter="url(#bl3)"/>
</g>
<rect x="2.40" y="376.00" width="339.10" height="23.80" fill="none" stroke="#1a1a1a" stroke-width="1.1" />
<line x1="452.60" y1="248.90" x2="452.60" y2="386.10" stroke="#000" stroke-width="1.6"/>
<line x1="451.80" y1="385.20" x2="550.50" y2="385.20" stroke="#000" stroke-width="1.6"/>
<line x1="448.30" y1="249.60" x2="452.60" y2="249.60" stroke="#000" stroke-width="1.4"/>
<text x="447.30" y="253.20" font-size="10.0" text-anchor="end" font-weight="bold" font-style="normal" fill="#000" stroke="#000" stroke-width="0.55" textLength="14.50" lengthAdjust="spacingAndGlyphs" >1.5</text>
<line x1="448.30" y1="295.00" x2="452.60" y2="295.00" stroke="#000" stroke-width="1.4"/>
<text x="447.30" y="298.60" font-size="10.0" text-anchor="end" font-weight="bold" font-style="normal" fill="#000" stroke="#000" stroke-width="0.55" textLength="14.50" lengthAdjust="spacingAndGlyphs" >1.0</text>
<line x1="448.30" y1="340.20" x2="452.60" y2="340.20" stroke="#000" stroke-width="1.4"/>
<text x="447.30" y="343.80" font-size="10.0" text-anchor="end" font-weight="bold" font-style="normal" fill="#000" stroke="#000" stroke-width="0.55" textLength="14.50" lengthAdjust="spacingAndGlyphs" >0.5</text>
<line x1="448.30" y1="385.20" x2="452.60" y2="385.20" stroke="#000" stroke-width="1.4"/>
<text x="447.30" y="388.80" font-size="10.0" text-anchor="end" font-weight="bold" font-style="normal" fill="#000" stroke="#000" stroke-width="0.55" textLength="14.50" lengthAdjust="spacingAndGlyphs" >0.0</text>
<line x1="465.10" y1="385.20" x2="465.10" y2="388.70" stroke="#000" stroke-width="1.3"/>
<line x1="489.90" y1="385.20" x2="489.90" y2="388.70" stroke="#000" stroke-width="1.3"/>
<line x1="513.90" y1="385.20" x2="513.90" y2="388.70" stroke="#000" stroke-width="1.3"/>
<line x1="538.20" y1="385.20" x2="538.20" y2="388.70" stroke="#000" stroke-width="1.3"/>
<path d="M465.10,295.00 L489.90,314.20 L513.90,295.30 L538.20,308.30" fill="none" stroke="#000" stroke-width="1.9"/>
<line x1="489.90" y1="307.70" x2="489.90" y2="321.20" stroke="#000" stroke-width="1.9"/>
<line x1="486.90" y1="307.70" x2="492.90" y2="307.70" stroke="#000" stroke-width="1.9"/>
<line x1="486.90" y1="321.20" x2="492.90" y2="321.20" stroke="#000" stroke-width="1.9"/>
<line x1="513.90" y1="287.50" x2="513.90" y2="303.00" stroke="#000" stroke-width="1.9"/>
<line x1="510.90" y1="287.50" x2="516.90" y2="287.50" stroke="#000" stroke-width="1.9"/>
<line x1="510.90" y1="303.00" x2="516.90" y2="303.00" stroke="#000" stroke-width="1.9"/>
<line x1="538.20" y1="303.30" x2="538.20" y2="312.70" stroke="#000" stroke-width="1.9"/>
<line x1="535.20" y1="303.30" x2="541.20" y2="303.30" stroke="#000" stroke-width="1.9"/>
<line x1="535.20" y1="312.70" x2="541.20" y2="312.70" stroke="#000" stroke-width="1.9"/>
<rect x="462.50" y="292.40" width="5.20" height="5.20" fill="#000" />
<circle cx="489.90" cy="314.20" r="3.1" fill="#000"/>
<circle cx="513.90" cy="295.30" r="3.1" fill="#000"/>
<circle cx="538.20" cy="308.30" r="3.1" fill="#000"/>
<text x="487.50" y="234.20" font-size="12.2" text-anchor="start" font-weight="bold" font-style="normal" fill="#000" stroke="#000" stroke-width="0.55" textLength="28.00" lengthAdjust="spacingAndGlyphs" >CB2</text>
<text x="465.10" y="399.80" font-size="9.7" text-anchor="middle" font-weight="bold" font-style="normal" fill="#000" stroke="#000" stroke-width="0.55" textLength="27.50" lengthAdjust="spacingAndGlyphs" >Basal</text>
<text x="489.90" y="399.80" font-size="9.7" text-anchor="middle" font-weight="bold" font-style="normal" fill="#000" stroke="#000" stroke-width="0.55" textLength="13.90" lengthAdjust="spacingAndGlyphs" >4h</text>
<text x="513.90" y="399.80" font-size="9.7" text-anchor="middle" font-weight="bold" font-style="normal" fill="#000" stroke="#000" stroke-width="0.55" textLength="12.20" lengthAdjust="spacingAndGlyphs" >8h</text>
<text x="538.20" y="399.80" font-size="9.7" text-anchor="middle" font-weight="bold" font-style="normal" fill="#000" stroke="#000" stroke-width="0.55" textLength="17.50" lengthAdjust="spacingAndGlyphs" >24h</text>
<text transform="translate(408.30,316.90) rotate(-90)" x="0" y="0" font-size="12.3" text-anchor="middle" font-weight="bold" stroke="#000" stroke-width="0.55" textLength="71.90" lengthAdjust="spacingAndGlyphs">Protein levels</text>
<text transform="translate(422.60,316.90) rotate(-90)" x="0" y="0" font-size="12.3" text-anchor="middle" font-weight="bold" stroke="#000" stroke-width="0.55" textLength="85.30" lengthAdjust="spacingAndGlyphs">(Fold of change)</text>
<line x1="579.10" y1="248.70" x2="579.10" y2="386.30" stroke="#000" stroke-width="1.6"/>
<line x1="578.30" y1="385.40" x2="674.30" y2="385.40" stroke="#000" stroke-width="1.6"/>
<line x1="574.80" y1="249.40" x2="579.10" y2="249.40" stroke="#000" stroke-width="1.4"/>
<text x="573.80" y="253.00" font-size="10.0" text-anchor="end" font-weight="bold" font-style="normal" fill="#000" stroke="#000" stroke-width="0.55" textLength="15.80" lengthAdjust="spacingAndGlyphs" >2.5</text>
<line x1="574.80" y1="276.70" x2="579.10" y2="276.70" stroke="#000" stroke-width="1.4"/>
<text x="573.80" y="280.30" font-size="10.0" text-anchor="end" font-weight="bold" font-style="normal" fill="#000" stroke="#000" stroke-width="0.55" textLength="15.80" lengthAdjust="spacingAndGlyphs" >2.0</text>
<line x1="574.80" y1="304.00" x2="579.10" y2="304.00" stroke="#000" stroke-width="1.4"/>
<text x="573.80" y="307.60" font-size="10.0" text-anchor="end" font-weight="bold" font-style="normal" fill="#000" stroke="#000" stroke-width="0.55" textLength="15.80" lengthAdjust="spacingAndGlyphs" >1.5</text>
<line x1="574.80" y1="331.00" x2="579.10" y2="331.00" stroke="#000" stroke-width="1.4"/>
<text x="573.80" y="334.60" font-size="10.0" text-anchor="end" font-weight="bold" font-style="normal" fill="#000" stroke="#000" stroke-width="0.55" textLength="15.80" lengthAdjust="spacingAndGlyphs" >1.0</text>
<line x1="574.80" y1="358.30" x2="579.10" y2="358.30" stroke="#000" stroke-width="1.4"/>
<text x="573.80" y="361.90" font-size="10.0" text-anchor="end" font-weight="bold" font-style="normal" fill="#000" stroke="#000" stroke-width="0.55" textLength="15.80" lengthAdjust="spacingAndGlyphs" >0.5</text>
<line x1="574.80" y1="385.40" x2="579.10" y2="385.40" stroke="#000" stroke-width="1.4"/>
<text x="573.80" y="389.00" font-size="10.0" text-anchor="end" font-weight="bold" font-style="normal" fill="#000" stroke="#000" stroke-width="0.55" textLength="15.80" lengthAdjust="spacingAndGlyphs" >0.0</text>
<line x1="590.50" y1="385.40" x2="590.50" y2="388.90" stroke="#000" stroke-width="1.3"/>
<line x1="614.90" y1="385.40" x2="614.90" y2="388.90" stroke="#000" stroke-width="1.3"/>
<line x1="638.70" y1="385.40" x2="638.70" y2="388.90" stroke="#000" stroke-width="1.3"/>
<line x1="663.10" y1="385.40" x2="663.10" y2="388.90" stroke="#000" stroke-width="1.3"/>
<path d="M590.50,331.50 L614.90,284.00 L638.70,272.60 L663.10,335.90" fill="none" stroke="#000" stroke-width="1.9"/>
<line x1="590.50" y1="326.00" x2="590.50" y2="336.30" stroke="#000" stroke-width="1.9"/>
<line x1="587.50" y1="326.00" x2="593.50" y2="326.00" stroke="#000" stroke-width="1.9"/>
<line x1="587.50" y1="336.30" x2="593.50" y2="336.30" stroke="#000" stroke-width="1.9"/>
<line x1="614.90" y1="271.10" x2="614.90" y2="296.70" stroke="#000" stroke-width="1.9"/>
<line x1="611.90" y1="271.10" x2="617.90" y2="271.10" stroke="#000" stroke-width="1.9"/>
<line x1="611.90" y1="296.70" x2="617.90" y2="296.70" stroke="#000" stroke-width="1.9"/>
<line x1="638.70" y1="258.40" x2="638.70" y2="286.40" stroke="#000" stroke-width="1.9"/>
<line x1="635.70" y1="258.40" x2="641.70" y2="258.40" stroke="#000" stroke-width="1.9"/>
<line x1="635.70" y1="286.40" x2="641.70" y2="286.40" stroke="#000" stroke-width="1.9"/>
<line x1="663.10" y1="327.10" x2="663.10" y2="344.40" stroke="#000" stroke-width="1.9"/>
<line x1="660.10" y1="327.10" x2="666.10" y2="327.10" stroke="#000" stroke-width="1.9"/>
<line x1="660.10" y1="344.40" x2="666.10" y2="344.40" stroke="#000" stroke-width="1.9"/>
<circle cx="590.50" cy="331.50" r="3.1" fill="#000"/>
<circle cx="614.90" cy="284.00" r="3.1" fill="#000"/>
<circle cx="638.70" cy="272.60" r="3.1" fill="#000"/>
<circle cx="663.10" cy="335.90" r="3.1" fill="#000"/>
<text x="615.00" y="272.38" font-size="15.00" text-anchor="middle" font-weight="bold" stroke="#000" stroke-width="0.5">*</text>
<text x="636.10" y="260.18" font-size="15.00" text-anchor="middle" font-weight="bold" stroke="#000" stroke-width="0.5">*</text>
<text x="643.90" y="260.18" font-size="15.00" text-anchor="middle" font-weight="bold" stroke="#000" stroke-width="0.5">*</text>
<text x="607.80" y="233.80" font-size="12.2" text-anchor="start" font-weight="bold" font-style="normal" fill="#000" stroke="#000" stroke-width="0.55" textLength="35.10" lengthAdjust="spacingAndGlyphs" >NRF2</text>
<text x="590.50" y="399.90" font-size="9.7" text-anchor="middle" font-weight="bold" font-style="normal" fill="#000" stroke="#000" stroke-width="0.55" textLength="28.00" lengthAdjust="spacingAndGlyphs" >Basal</text>
<text x="614.90" y="399.90" font-size="9.7" text-anchor="middle" font-weight="bold" font-style="normal" fill="#000" stroke="#000" stroke-width="0.55" textLength="12.20" lengthAdjust="spacingAndGlyphs" >4h</text>
<text x="638.70" y="399.90" font-size="9.7" text-anchor="middle" font-weight="bold" font-style="normal" fill="#000" stroke="#000" stroke-width="0.55" textLength="11.70" lengthAdjust="spacingAndGlyphs" >8h</text>
<text x="663.10" y="399.90" font-size="9.7" text-anchor="middle" font-weight="bold" font-style="normal" fill="#000" stroke="#000" stroke-width="0.55" textLength="17.50" lengthAdjust="spacingAndGlyphs" >24h</text>
<line x1="58.00" y1="469.50" x2="58.00" y2="607.00" stroke="#000" stroke-width="1.6"/>
<line x1="57.20" y1="606.10" x2="157.80" y2="606.10" stroke="#000" stroke-width="1.6"/>
<line x1="53.70" y1="470.20" x2="58.00" y2="470.20" stroke="#000" stroke-width="1.4"/>
<text x="51.60" y="473.87" font-size="10.2" text-anchor="end" font-weight="bold" font-style="normal" fill="#000" stroke="#000" stroke-width="0.55" textLength="5.50" lengthAdjust="spacingAndGlyphs" >7</text>
<line x1="53.70" y1="489.50" x2="58.00" y2="489.50" stroke="#000" stroke-width="1.4"/>
<text x="51.60" y="493.17" font-size="10.2" text-anchor="end" font-weight="bold" font-style="normal" fill="#000" stroke="#000" stroke-width="0.55" textLength="5.50" lengthAdjust="spacingAndGlyphs" >6</text>
<line x1="53.70" y1="509.10" x2="58.00" y2="509.10" stroke="#000" stroke-width="1.4"/>
<text x="51.60" y="512.77" font-size="10.2" text-anchor="end" font-weight="bold" font-style="normal" fill="#000" stroke="#000" stroke-width="0.55" textLength="5.50" lengthAdjust="spacingAndGlyphs" >5</text>
<line x1="53.70" y1="528.50" x2="58.00" y2="528.50" stroke="#000" stroke-width="1.4"/>
<text x="51.60" y="532.17" font-size="10.2" text-anchor="end" font-weight="bold" font-style="normal" fill="#000" stroke="#000" stroke-width="0.55" textLength="5.50" lengthAdjust="spacingAndGlyphs" >4</text>
<line x1="53.70" y1="548.10" x2="58.00" y2="548.10" stroke="#000" stroke-width="1.4"/>
<text x="51.60" y="551.77" font-size="10.2" text-anchor="end" font-weight="bold" font-style="normal" fill="#000" stroke="#000" stroke-width="0.55" textLength="5.50" lengthAdjust="spacingAndGlyphs" >3</text>
<line x1="53.70" y1="567.40" x2="58.00" y2="567.40" stroke="#000" stroke-width="1.4"/>
<text x="51.60" y="571.07" font-size="10.2" text-anchor="end" font-weight="bold" font-style="normal" fill="#000" stroke="#000" stroke-width="0.55" textLength="5.50" lengthAdjust="spacingAndGlyphs" >2</text>
<line x1="53.70" y1="586.80" x2="58.00" y2="586.80" stroke="#000" stroke-width="1.4"/>
<text x="51.60" y="590.47" font-size="10.2" text-anchor="end" font-weight="bold" font-style="normal" fill="#000" stroke="#000" stroke-width="0.55" textLength="5.50" lengthAdjust="spacingAndGlyphs" >1</text>
<line x1="53.70" y1="606.10" x2="58.00" y2="606.10" stroke="#000" stroke-width="1.4"/>
<text x="51.60" y="609.77" font-size="10.2" text-anchor="end" font-weight="bold" font-style="normal" fill="#000" stroke="#000" stroke-width="0.55" textLength="5.50" lengthAdjust="spacingAndGlyphs" >0</text>
<line x1="69.80" y1="606.10" x2="69.80" y2="609.60" stroke="#000" stroke-width="1.3"/>
<line x1="95.00" y1="606.10" x2="95.00" y2="609.60" stroke="#000" stroke-width="1.3"/>
<line x1="120.10" y1="606.10" x2="120.10" y2="609.60" stroke="#000" stroke-width="1.3"/>
<line x1="145.00" y1="606.10" x2="145.00" y2="609.60" stroke="#000" stroke-width="1.3"/>
<path d="M69.80,586.80 L95.00,549.30 L120.10,504.90 L145.00,562.40" fill="none" stroke="#000" stroke-width="1.9"/>
<line x1="95.00" y1="542.60" x2="95.00" y2="556.90" stroke="#000" stroke-width="1.9"/>
<line x1="92.00" y1="542.60" x2="98.00" y2="542.60" stroke="#000" stroke-width="1.9"/>
<line x1="92.00" y1="556.90" x2="98.00" y2="556.90" stroke="#000" stroke-width="1.9"/>
<line x1="120.10" y1="487.80" x2="120.10" y2="522.50" stroke="#000" stroke-width="1.9"/>
<line x1="117.10" y1="487.80" x2="123.10" y2="487.80" stroke="#000" stroke-width="1.9"/>
<line x1="117.10" y1="522.50" x2="123.10" y2="522.50" stroke="#000" stroke-width="1.9"/>
<line x1="145.00" y1="554.90" x2="145.00" y2="570.70" stroke="#000" stroke-width="1.9"/>
<line x1="142.00" y1="554.90" x2="148.00" y2="554.90" stroke="#000" stroke-width="1.9"/>
<line x1="142.00" y1="570.70" x2="148.00" y2="570.70" stroke="#000" stroke-width="1.9"/>
<rect x="67.20" y="584.20" width="5.20" height="5.20" fill="#000" />
<circle cx="95.00" cy="549.30" r="3.1" fill="#000"/>
<circle cx="120.10" cy="504.90" r="3.1" fill="#000"/>
<circle cx="145.00" cy="562.40" r="3.1" fill="#000"/>
<text x="112.75" y="488.88" font-size="15.00" text-anchor="middle" font-weight="bold" stroke="#000" stroke-width="0.5">*</text>
<text x="120.55" y="488.88" font-size="15.00" text-anchor="middle" font-weight="bold" stroke="#000" stroke-width="0.5">*</text>
<text x="128.35" y="488.88" font-size="15.00" text-anchor="middle" font-weight="bold" stroke="#000" stroke-width="0.5">*</text>
<text x="95.50" y="454.60" font-size="12.2" text-anchor="start" font-weight="bold" font-style="normal" fill="#000" stroke="#000" stroke-width="0.55" textLength="32.10" lengthAdjust="spacingAndGlyphs" >HO-1</text>
<text x="69.80" y="621.80" font-size="9.7" text-anchor="middle" font-weight="bold" font-style="normal" fill="#000" stroke="#000" stroke-width="0.55" textLength="30.40" lengthAdjust="spacingAndGlyphs" >Basal</text>
<text x="95.00" y="621.80" font-size="9.7" text-anchor="middle" font-weight="bold" font-style="normal" fill="#000" stroke="#000" stroke-width="0.55" textLength="15.00" lengthAdjust="spacingAndGlyphs" >4h</text>
<text x="120.10" y="621.80" font-size="9.7" text-anchor="middle" font-weight="bold" font-style="normal" fill="#000" stroke="#000" stroke-width="0.55" textLength="13.00" lengthAdjust="spacingAndGlyphs" >8h</text>
<text x="145.00" y="621.80" font-size="9.7" text-anchor="middle" font-weight="bold" font-style="normal" fill="#000" stroke="#000" stroke-width="0.55" textLength="18.60" lengthAdjust="spacingAndGlyphs" >24h</text>
<text transform="translate(17.60,538.70) rotate(-90)" x="0" y="0" font-size="12.3" text-anchor="middle" font-weight="bold" stroke="#000" stroke-width="0.55" textLength="71.60" lengthAdjust="spacingAndGlyphs">Protein levels</text>
<text transform="translate(31.60,538.70) rotate(-90)" x="0" y="0" font-size="12.3" text-anchor="middle" font-weight="bold" stroke="#000" stroke-width="0.55" textLength="85.50" lengthAdjust="spacingAndGlyphs">(Fold of change)</text>
<line x1="193.90" y1="469.50" x2="193.90" y2="606.80" stroke="#000" stroke-width="1.6"/>
<line x1="193.10" y1="605.90" x2="290.10" y2="605.90" stroke="#000" stroke-width="1.6"/>
<line x1="189.60" y1="470.20" x2="193.90" y2="470.20" stroke="#000" stroke-width="1.4"/>
<text x="188.60" y="473.80" font-size="10" text-anchor="end" font-weight="bold" font-style="normal" fill="#000" stroke="#000" stroke-width="0.55" textLength="15.10" lengthAdjust="spacingAndGlyphs" >2.5</text>
<line x1="189.60" y1="497.30" x2="193.90" y2="497.30" stroke="#000" stroke-width="1.4"/>
<text x="188.60" y="500.90" font-size="10" text-anchor="end" font-weight="bold" font-style="normal" fill="#000" stroke="#000" stroke-width="0.55" textLength="15.10" lengthAdjust="spacingAndGlyphs" >2.0</text>
<line x1="189.60" y1="524.70" x2="193.90" y2="524.70" stroke="#000" stroke-width="1.4"/>
<text x="188.60" y="528.30" font-size="10" text-anchor="end" font-weight="bold" font-style="normal" fill="#000" stroke="#000" stroke-width="0.55" textLength="15.10" lengthAdjust="spacingAndGlyphs" >1.5</text>
<line x1="189.60" y1="551.90" x2="193.90" y2="551.90" stroke="#000" stroke-width="1.4"/>
<text x="188.60" y="555.50" font-size="10" text-anchor="end" font-weight="bold" font-style="normal" fill="#000" stroke="#000" stroke-width="0.55" textLength="15.10" lengthAdjust="spacingAndGlyphs" >1.0</text>
<line x1="189.60" y1="578.70" x2="193.90" y2="578.70" stroke="#000" stroke-width="1.4"/>
<text x="188.60" y="582.30" font-size="10" text-anchor="end" font-weight="bold" font-style="normal" fill="#000" stroke="#000" stroke-width="0.55" textLength="15.10" lengthAdjust="spacingAndGlyphs" >0.5</text>
<line x1="189.60" y1="605.90" x2="193.90" y2="605.90" stroke="#000" stroke-width="1.4"/>
<text x="188.60" y="609.50" font-size="10" text-anchor="end" font-weight="bold" font-style="normal" fill="#000" stroke="#000" stroke-width="0.55" textLength="15.10" lengthAdjust="spacingAndGlyphs" >0.0</text>
<line x1="205.70" y1="605.90" x2="205.70" y2="609.40" stroke="#000" stroke-width="1.3"/>
<line x1="229.80" y1="605.90" x2="229.80" y2="609.40" stroke="#000" stroke-width="1.3"/>
<line x1="253.90" y1="605.90" x2="253.90" y2="609.40" stroke="#000" stroke-width="1.3"/>
<line x1="278.10" y1="605.90" x2="278.10" y2="609.40" stroke="#000" stroke-width="1.3"/>
<path d="M205.70,551.90 L229.80,530.00 L253.90,518.00 L278.10,488.30" fill="none" stroke="#000" stroke-width="1.9"/>
<line x1="205.70" y1="541.80" x2="205.70" y2="561.20" stroke="#000" stroke-width="1.9"/>
<line x1="202.70" y1="541.80" x2="208.70" y2="541.80" stroke="#000" stroke-width="1.9"/>
<line x1="202.70" y1="561.20" x2="208.70" y2="561.20" stroke="#000" stroke-width="1.9"/>
<line x1="229.80" y1="522.50" x2="229.80" y2="538.00" stroke="#000" stroke-width="1.9"/>
<line x1="226.80" y1="522.50" x2="232.80" y2="522.50" stroke="#000" stroke-width="1.9"/>
<line x1="226.80" y1="538.00" x2="232.80" y2="538.00" stroke="#000" stroke-width="1.9"/>
<line x1="253.90" y1="509.90" x2="253.90" y2="527.20" stroke="#000" stroke-width="1.9"/>
<line x1="250.90" y1="509.90" x2="256.90" y2="509.90" stroke="#000" stroke-width="1.9"/>
<line x1="250.90" y1="527.20" x2="256.90" y2="527.20" stroke="#000" stroke-width="1.9"/>
<line x1="278.10" y1="480.80" x2="278.10" y2="495.80" stroke="#000" stroke-width="1.9"/>
<line x1="275.10" y1="480.80" x2="281.10" y2="480.80" stroke="#000" stroke-width="1.9"/>
<line x1="275.10" y1="495.80" x2="281.10" y2="495.80" stroke="#000" stroke-width="1.9"/>
<circle cx="205.70" cy="551.90" r="3.1" fill="#000"/>
<circle cx="229.80" cy="530.00" r="3.1" fill="#000"/>
<circle cx="253.90" cy="518.00" r="3.1" fill="#000"/>
<circle cx="278.10" cy="488.30" r="3.1" fill="#000"/>
<text x="270.95" y="481.88" font-size="15.00" text-anchor="middle" font-weight="bold" stroke="#000" stroke-width="0.5">*</text>
<text x="278.60" y="481.88" font-size="15.00" text-anchor="middle" font-weight="bold" stroke="#000" stroke-width="0.5">*</text>
<text x="286.25" y="481.88" font-size="15.00" text-anchor="middle" font-weight="bold" stroke="#000" stroke-width="0.5">*</text>
<text x="227.30" y="454.60" font-size="12.2" text-anchor="start" font-weight="bold" font-style="normal" fill="#000" stroke="#000" stroke-width="0.55" textLength="37.40" lengthAdjust="spacingAndGlyphs" >NQO1</text>
<text x="205.70" y="621.80" font-size="9.7" text-anchor="middle" font-weight="bold" font-style="normal" fill="#000" stroke="#000" stroke-width="0.55" textLength="29.20" lengthAdjust="spacingAndGlyphs" >Basal</text>
<text x="229.80" y="621.80" font-size="9.7" text-anchor="middle" font-weight="bold" font-style="normal" fill="#000" stroke="#000" stroke-width="0.55" textLength="13.00" lengthAdjust="spacingAndGlyphs" >4h</text>
<text x="253.90" y="621.80" font-size="9.7" text-anchor="middle" font-weight="bold" font-style="normal" fill="#000" stroke="#000" stroke-width="0.55" textLength="13.00" lengthAdjust="spacingAndGlyphs" >8h</text>
<text x="278.10" y="621.80" font-size="9.7" text-anchor="middle" font-weight="bold" font-style="normal" fill="#000" stroke="#000" stroke-width="0.55" textLength="18.70" lengthAdjust="spacingAndGlyphs" >24h</text>
<line x1="403.45" y1="489.00" x2="403.45" y2="504.30" stroke="#000" stroke-width="2.0"/>
<line x1="396.45" y1="489.00" x2="410.45" y2="489.00" stroke="#000" stroke-width="2.0"/>
<path d="M387.30,606.90 V504.30 H419.60 V606.90" fill="#fff" stroke="#000" stroke-width="2.0"/>
<line x1="452.15" y1="497.90" x2="452.15" y2="513.50" stroke="#000" stroke-width="2.0"/>
<line x1="445.15" y1="497.90" x2="459.15" y2="497.90" stroke="#000" stroke-width="2.0"/>
<rect x="434.80" y="512.50" width="34.70" height="94.40" fill="#000" />
<line x1="379.00" y1="460.00" x2="379.00" y2="607.80" stroke="#000" stroke-width="1.8"/>
<line x1="378.10" y1="606.90" x2="473.60" y2="606.90" stroke="#000" stroke-width="1.8"/>
<line x1="375.00" y1="460.70" x2="379.00" y2="460.70" stroke="#000" stroke-width="1.5"/>
<text x="373.00" y="464.40" font-size="10.2" text-anchor="end" font-weight="bold" font-style="normal" fill="#000" stroke="#000" stroke-width="0.55" textLength="14.40" lengthAdjust="spacingAndGlyphs" >1.5</text>
<line x1="375.00" y1="509.10" x2="379.00" y2="509.10" stroke="#000" stroke-width="1.5"/>
<text x="373.00" y="512.80" font-size="10.2" text-anchor="end" font-weight="bold" font-style="normal" fill="#000" stroke="#000" stroke-width="0.55" textLength="14.40" lengthAdjust="spacingAndGlyphs" >1.0</text>
<line x1="375.00" y1="558.00" x2="379.00" y2="558.00" stroke="#000" stroke-width="1.5"/>
<text x="373.00" y="561.70" font-size="10.2" text-anchor="end" font-weight="bold" font-style="normal" fill="#000" stroke="#000" stroke-width="0.55" textLength="14.40" lengthAdjust="spacingAndGlyphs" >0.5</text>
<line x1="375.00" y1="606.90" x2="379.00" y2="606.90" stroke="#000" stroke-width="1.5"/>
<text x="373.00" y="610.60" font-size="10.2" text-anchor="end" font-weight="bold" font-style="normal" fill="#000" stroke="#000" stroke-width="0.55" textLength="14.40" lengthAdjust="spacingAndGlyphs" >0.0</text>
<line x1="403.40" y1="606.90" x2="403.40" y2="610.90" stroke="#000" stroke-width="1.5"/>
<line x1="451.90" y1="606.90" x2="451.90" y2="610.90" stroke="#000" stroke-width="1.5"/>
<text x="411.00" y="443.20" font-size="13.2" text-anchor="start" font-weight="bold" font-style="italic" fill="#000" stroke="#000" stroke-width="0.55" textLength="32.00" lengthAdjust="spacingAndGlyphs" >Cnr2</text>
<text x="403.40" y="622.80" font-size="10.4" text-anchor="middle" font-weight="bold" font-style="normal" fill="#000" stroke="#000" stroke-width="0.55" textLength="29.20" lengthAdjust="spacingAndGlyphs" >Basal</text>
<text x="451.90" y="622.80" font-size="10.4" text-anchor="middle" font-weight="bold" font-style="normal" fill="#000" stroke="#000" stroke-width="0.55" textLength="23.90" lengthAdjust="spacingAndGlyphs" >DMF</text>
<text transform="translate(337.50,534.00) rotate(-90)" x="0" y="0" font-size="12.6" text-anchor="middle" font-weight="bold" stroke="#000" stroke-width="0.55" textLength="71.60" lengthAdjust="spacingAndGlyphs">mRNA levels</text>
<text transform="translate(351.80,534.00) rotate(-90)" x="0" y="0" font-size="12.2" text-anchor="middle" font-weight="bold" stroke="#000" stroke-width="0.55" textLength="92.00" lengthAdjust="spacingAndGlyphs">(Fold of change)</text>
<line x1="556.85" y1="553.60" x2="556.85" y2="558.00" stroke="#000" stroke-width="2.0"/>
<line x1="549.85" y1="553.60" x2="563.85" y2="553.60" stroke="#000" stroke-width="2.0"/>
<path d="M540.50,607.50 V558.00 H573.20 V607.50" fill="#fff" stroke="#000" stroke-width="2.0"/>
<line x1="605.45" y1="468.20" x2="605.45" y2="478.70" stroke="#000" stroke-width="2.0"/>
<line x1="598.45" y1="468.20" x2="612.45" y2="468.20" stroke="#000" stroke-width="2.0"/>
<rect x="588.30" y="477.70" width="34.30" height="129.80" fill="#000" />
<line x1="532.90" y1="460.50" x2="532.90" y2="608.40" stroke="#000" stroke-width="1.8"/>
<line x1="532.00" y1="607.50" x2="630.60" y2="607.50" stroke="#000" stroke-width="1.8"/>
<line x1="528.90" y1="461.20" x2="532.90" y2="461.20" stroke="#000" stroke-width="1.5"/>
<text x="526.50" y="464.90" font-size="10.2" text-anchor="end" font-weight="bold" font-style="normal" fill="#000" stroke="#000" stroke-width="0.55" textLength="5.60" lengthAdjust="spacingAndGlyphs" >3</text>
<line x1="528.90" y1="509.90" x2="532.90" y2="509.90" stroke="#000" stroke-width="1.5"/>
<text x="526.50" y="513.60" font-size="10.2" text-anchor="end" font-weight="bold" font-style="normal" fill="#000" stroke="#000" stroke-width="0.55" textLength="5.60" lengthAdjust="spacingAndGlyphs" >2</text>
<line x1="528.90" y1="559.20" x2="532.90" y2="559.20" stroke="#000" stroke-width="1.5"/>
<text x="526.50" y="562.90" font-size="10.2" text-anchor="end" font-weight="bold" font-style="normal" fill="#000" stroke="#000" stroke-width="0.55" textLength="5.60" lengthAdjust="spacingAndGlyphs" >1</text>
<line x1="528.90" y1="607.50" x2="532.90" y2="607.50" stroke="#000" stroke-width="1.5"/>
<text x="526.50" y="611.20" font-size="10.2" text-anchor="end" font-weight="bold" font-style="normal" fill="#000" stroke="#000" stroke-width="0.55" textLength="5.60" lengthAdjust="spacingAndGlyphs" >0</text>
<line x1="557.20" y1="607.50" x2="557.20" y2="611.50" stroke="#000" stroke-width="1.5"/>
<line x1="605.70" y1="607.50" x2="605.70" y2="611.50" stroke="#000" stroke-width="1.5"/>
<text x="598.09" y="468.92" font-size="14.70" text-anchor="middle" font-weight="bold" stroke="#000" stroke-width="0.5">*</text>
<text x="606.30" y="468.92" font-size="14.70" text-anchor="middle" font-weight="bold" stroke="#000" stroke-width="0.5">*</text>
<text x="614.51" y="468.92" font-size="14.70" text-anchor="middle" font-weight="bold" stroke="#000" stroke-width="0.5">*</text>
<text x="557.00" y="444.10" font-size="13.2" text-anchor="start" font-weight="bold" font-style="italic" fill="#000" stroke="#000" stroke-width="0.55" textLength="48.20" lengthAdjust="spacingAndGlyphs" >Hmox1</text>
<text x="557.20" y="622.80" font-size="10.4" text-anchor="middle" font-weight="bold" font-style="normal" fill="#000" stroke="#000" stroke-width="0.55" textLength="29.00" lengthAdjust="spacingAndGlyphs" >Basal</text>
<text x="605.70" y="622.80" font-size="10.4" text-anchor="middle" font-weight="bold" font-style="normal" fill="#000" stroke="#000" stroke-width="0.55" textLength="24.30" lengthAdjust="spacingAndGlyphs" >DMF</text>
<text transform="translate(493.00,534.00) rotate(-90)" x="0" y="0" font-size="12.6" text-anchor="middle" font-weight="bold" stroke="#000" stroke-width="0.55" textLength="71.60" lengthAdjust="spacingAndGlyphs">mRNA levels</text>
<text transform="translate(505.30,534.00) rotate(-90)" x="0" y="0" font-size="12.2" text-anchor="middle" font-weight="bold" stroke="#000" stroke-width="0.55" textLength="92.00" lengthAdjust="spacingAndGlyphs">(Fold of change)</text>
<line x1="88.80" y1="735.00" x2="88.80" y2="745.00" stroke="#000" stroke-width="2.0"/>
<line x1="81.80" y1="735.00" x2="95.80" y2="735.00" stroke="#000" stroke-width="2.0"/>
<path d="M73.30,843.30 V745.00 H104.30 V843.30" fill="#fff" stroke="#000" stroke-width="2.0"/>
<line x1="134.90" y1="730.90" x2="134.90" y2="743.00" stroke="#000" stroke-width="2.0"/>
<line x1="127.90" y1="730.90" x2="141.90" y2="730.90" stroke="#000" stroke-width="2.0"/>
<rect x="118.50" y="742.00" width="32.80" height="101.30" fill="#000" />
<line x1="66.00" y1="697.50" x2="66.00" y2="844.20" stroke="#000" stroke-width="1.8"/>
<line x1="65.10" y1="843.30" x2="158.70" y2="843.30" stroke="#000" stroke-width="1.8"/>
<line x1="62.00" y1="698.20" x2="66.00" y2="698.20" stroke="#000" stroke-width="1.5"/>
<text x="60.40" y="701.90" font-size="10.2" text-anchor="end" font-weight="bold" font-style="normal" fill="#000" stroke="#000" stroke-width="0.55" textLength="14.40" lengthAdjust="spacingAndGlyphs" >1.5</text>
<line x1="62.00" y1="746.70" x2="66.00" y2="746.70" stroke="#000" stroke-width="1.5"/>
<text x="60.40" y="750.40" font-size="10.2" text-anchor="end" font-weight="bold" font-style="normal" fill="#000" stroke="#000" stroke-width="0.55" textLength="14.40" lengthAdjust="spacingAndGlyphs" >1.0</text>
<line x1="62.00" y1="795.20" x2="66.00" y2="795.20" stroke="#000" stroke-width="1.5"/>
<text x="60.40" y="798.90" font-size="10.2" text-anchor="end" font-weight="bold" font-style="normal" fill="#000" stroke="#000" stroke-width="0.55" textLength="14.40" lengthAdjust="spacingAndGlyphs" >0.5</text>
<line x1="62.00" y1="843.30" x2="66.00" y2="843.30" stroke="#000" stroke-width="1.5"/>
<text x="60.40" y="847.00" font-size="10.2" text-anchor="end" font-weight="bold" font-style="normal" fill="#000" stroke="#000" stroke-width="0.55" textLength="14.40" lengthAdjust="spacingAndGlyphs" >0.0</text>
<line x1="88.70" y1="843.30" x2="88.70" y2="847.30" stroke="#000" stroke-width="1.5"/>
<line x1="134.80" y1="843.30" x2="134.80" y2="847.30" stroke="#000" stroke-width="1.5"/>
<text x="94.20" y="684.20" font-size="13.2" text-anchor="start" font-weight="bold" font-style="italic" fill="#000" stroke="#000" stroke-width="0.55" textLength="30.20" lengthAdjust="spacingAndGlyphs" >Cnr2</text>
<text x="88.70" y="859.40" font-size="10.4" text-anchor="middle" font-weight="bold" font-style="normal" fill="#000" stroke="#000" stroke-width="0.55" textLength="19.20" lengthAdjust="spacingAndGlyphs" >Ctrl</text>
<text x="108.00" y="859.40" font-size="10.4" text-anchor="start" font-weight="bold" font-style="normal" fill="#000" stroke="#000" stroke-width="0.55" textLength="27.60" lengthAdjust="spacingAndGlyphs" >NRF2</text>
<text x="135.60" y="854.20" font-size="7.2" text-anchor="start" font-weight="normal" font-style="normal" fill="#000" textLength="26.00" lengthAdjust="spacingAndGlyphs" stroke="#000" stroke-width="0.25">ΔETGE</text>
<text transform="translate(27.70,771.00) rotate(-90)" x="0" y="0" font-size="12.6" text-anchor="middle" font-weight="bold" stroke="#000" stroke-width="0.55" textLength="69.60" lengthAdjust="spacingAndGlyphs">mRNA levels</text>
<text transform="translate(41.30,771.00) rotate(-90)" x="0" y="0" font-size="12.2" text-anchor="middle" font-weight="bold" stroke="#000" stroke-width="0.55" textLength="92.00" lengthAdjust="spacingAndGlyphs">(Fold of change)</text>
<path d="M229.20,843.40 V842.00 H259.50 V843.40" fill="#fff" stroke="#000" stroke-width="2.0"/>
<line x1="290.35" y1="712.00" x2="290.35" y2="720.40" stroke="#000" stroke-width="2.0"/>
<line x1="283.35" y1="712.00" x2="297.35" y2="712.00" stroke="#000" stroke-width="2.0"/>
<rect x="274.00" y="719.40" width="32.70" height="124.00" fill="#000" />
<line x1="220.80" y1="698.20" x2="220.80" y2="844.30" stroke="#000" stroke-width="1.8"/>
<line x1="219.90" y1="843.40" x2="313.20" y2="843.40" stroke="#000" stroke-width="1.8"/>
<line x1="216.80" y1="698.90" x2="220.80" y2="698.90" stroke="#000" stroke-width="1.5"/>
<text x="215.80" y="702.60" font-size="10.2" text-anchor="end" font-weight="bold" font-style="normal" fill="#000" stroke="#000" stroke-width="0.55" textLength="17.30" lengthAdjust="spacingAndGlyphs" >100</text>
<line x1="216.80" y1="727.60" x2="220.80" y2="727.60" stroke="#000" stroke-width="1.5"/>
<text x="215.80" y="731.30" font-size="10.2" text-anchor="end" font-weight="bold" font-style="normal" fill="#000" stroke="#000" stroke-width="0.55" textLength="11.40" lengthAdjust="spacingAndGlyphs" >80</text>
<line x1="216.80" y1="756.60" x2="220.80" y2="756.60" stroke="#000" stroke-width="1.5"/>
<text x="215.80" y="760.30" font-size="10.2" text-anchor="end" font-weight="bold" font-style="normal" fill="#000" stroke="#000" stroke-width="0.55" textLength="11.40" lengthAdjust="spacingAndGlyphs" >60</text>
<line x1="216.80" y1="785.60" x2="220.80" y2="785.60" stroke="#000" stroke-width="1.5"/>
<text x="215.80" y="789.30" font-size="10.2" text-anchor="end" font-weight="bold" font-style="normal" fill="#000" stroke="#000" stroke-width="0.55" textLength="11.40" lengthAdjust="spacingAndGlyphs" >40</text>
<line x1="216.80" y1="814.80" x2="220.80" y2="814.80" stroke="#000" stroke-width="1.5"/>
<text x="215.80" y="818.50" font-size="10.2" text-anchor="end" font-weight="bold" font-style="normal" fill="#000" stroke="#000" stroke-width="0.55" textLength="11.40" lengthAdjust="spacingAndGlyphs" >20</text>
<line x1="216.80" y1="843.40" x2="220.80" y2="843.40" stroke="#000" stroke-width="1.5"/>
<text x="215.80" y="847.10" font-size="10.2" text-anchor="end" font-weight="bold" font-style="normal" fill="#000" stroke="#000" stroke-width="0.55" textLength="5.70" lengthAdjust="spacingAndGlyphs" >0</text>
<line x1="243.90" y1="843.40" x2="243.90" y2="847.40" stroke="#000" stroke-width="1.5"/>
<line x1="290.10" y1="843.40" x2="290.10" y2="847.40" stroke="#000" stroke-width="1.5"/>
<text x="280.79" y="709.22" font-size="14.70" text-anchor="middle" font-weight="bold" stroke="#000" stroke-width="0.5">*</text>
<text x="287.00" y="709.22" font-size="14.70" text-anchor="middle" font-weight="bold" stroke="#000" stroke-width="0.5">*</text>
<text x="293.20" y="709.22" font-size="14.70" text-anchor="middle" font-weight="bold" stroke="#000" stroke-width="0.5">*</text>
<text x="299.41" y="709.22" font-size="14.70" text-anchor="middle" font-weight="bold" stroke="#000" stroke-width="0.5">*</text>
<text x="244.10" y="684.20" font-size="13.2" text-anchor="start" font-weight="bold" font-style="italic" fill="#000" stroke="#000" stroke-width="0.55" textLength="41.50" lengthAdjust="spacingAndGlyphs" >Nfe2l2</text>
<text x="243.90" y="859.40" font-size="10.4" text-anchor="middle" font-weight="bold" font-style="normal" fill="#000" stroke="#000" stroke-width="0.55" textLength="19.40" lengthAdjust="spacingAndGlyphs" >Ctrl</text>
<text x="263.80" y="859.40" font-size="10.4" text-anchor="start" font-weight="bold" font-style="normal" fill="#000" stroke="#000" stroke-width="0.55" textLength="28.10" lengthAdjust="spacingAndGlyphs" >NRF2</text>
<text x="291.90" y="854.20" font-size="7.2" text-anchor="start" font-weight="normal" font-style="normal" fill="#000" textLength="24.50" lengthAdjust="spacingAndGlyphs" stroke="#000" stroke-width="0.25">ΔETGE</text>
<text transform="translate(182.70,771.00) rotate(-90)" x="0" y="0" font-size="12.6" text-anchor="middle" font-weight="bold" stroke="#000" stroke-width="0.55" textLength="69.60" lengthAdjust="spacingAndGlyphs">mRNA levels</text>
<text transform="translate(196.30,771.00) rotate(-90)" x="0" y="0" font-size="12.2" text-anchor="middle" font-weight="bold" stroke="#000" stroke-width="0.55" textLength="92.00" lengthAdjust="spacingAndGlyphs">(Fold of change)</text>
<line x1="399.90" y1="735.40" x2="399.90" y2="746.70" stroke="#000" stroke-width="2.0"/>
<line x1="392.90" y1="735.40" x2="406.90" y2="735.40" stroke="#000" stroke-width="2.0"/>
<path d="M384.50,843.80 V746.70 H415.30 V843.80" fill="#fff" stroke="#000" stroke-width="2.0"/>
<line x1="445.80" y1="733.70" x2="445.80" y2="752.50" stroke="#000" stroke-width="2.0"/>
<line x1="438.80" y1="733.70" x2="452.80" y2="733.70" stroke="#000" stroke-width="2.0"/>
<rect x="429.70" y="751.50" width="32.20" height="92.30" fill="#000" />
<line x1="376.90" y1="699.70" x2="376.90" y2="844.70" stroke="#000" stroke-width="1.8"/>
<line x1="376.00" y1="843.80" x2="469.40" y2="843.80" stroke="#000" stroke-width="1.8"/>
<line x1="372.90" y1="700.40" x2="376.90" y2="700.40" stroke="#000" stroke-width="1.5"/>
<text x="372.00" y="704.10" font-size="10.2" text-anchor="end" font-weight="bold" font-style="normal" fill="#000" stroke="#000" stroke-width="0.55" textLength="14.20" lengthAdjust="spacingAndGlyphs" >1.5</text>
<line x1="372.90" y1="748.00" x2="376.90" y2="748.00" stroke="#000" stroke-width="1.5"/>
<text x="372.00" y="751.70" font-size="10.2" text-anchor="end" font-weight="bold" font-style="normal" fill="#000" stroke="#000" stroke-width="0.55" textLength="14.20" lengthAdjust="spacingAndGlyphs" >1.0</text>
<line x1="372.90" y1="795.90" x2="376.90" y2="795.90" stroke="#000" stroke-width="1.5"/>
<text x="372.00" y="799.60" font-size="10.2" text-anchor="end" font-weight="bold" font-style="normal" fill="#000" stroke="#000" stroke-width="0.55" textLength="14.20" lengthAdjust="spacingAndGlyphs" >0.5</text>
<line x1="372.90" y1="843.80" x2="376.90" y2="843.80" stroke="#000" stroke-width="1.5"/>
<text x="372.00" y="847.50" font-size="10.2" text-anchor="end" font-weight="bold" font-style="normal" fill="#000" stroke="#000" stroke-width="0.55" textLength="14.20" lengthAdjust="spacingAndGlyphs" >0.0</text>
<line x1="399.90" y1="843.80" x2="399.90" y2="847.80" stroke="#000" stroke-width="1.5"/>
<line x1="446.00" y1="843.80" x2="446.00" y2="847.80" stroke="#000" stroke-width="1.5"/>
<text x="407.90" y="684.20" font-size="13.2" text-anchor="start" font-weight="bold" font-style="italic" fill="#000" stroke="#000" stroke-width="0.55" textLength="29.60" lengthAdjust="spacingAndGlyphs" >Cnr2</text>
<text x="399.90" y="860.00" font-size="10.4" text-anchor="middle" font-weight="bold" font-style="normal" fill="#000" stroke="#000" stroke-width="0.55" textLength="30.80" lengthAdjust="spacingAndGlyphs" >shCtrl</text>
<text x="446.00" y="860.00" font-size="10.4" text-anchor="middle" font-weight="bold" font-style="normal" fill="#000" stroke="#000" stroke-width="0.55" textLength="40.90" lengthAdjust="spacingAndGlyphs" >shNRF2</text>
<text transform="translate(338.20,772.50) rotate(-90)" x="0" y="0" font-size="12.6" text-anchor="middle" font-weight="bold" stroke="#000" stroke-width="0.55" textLength="69.50" lengthAdjust="spacingAndGlyphs">mRNA levels</text>
<text transform="translate(351.90,772.50) rotate(-90)" x="0" y="0" font-size="12.2" text-anchor="middle" font-weight="bold" stroke="#000" stroke-width="0.55" textLength="90.50" lengthAdjust="spacingAndGlyphs">(Fold of change)</text>
<line x1="555.40" y1="725.80" x2="555.40" y2="743.60" stroke="#000" stroke-width="2.0"/>
<line x1="548.40" y1="725.80" x2="562.40" y2="725.80" stroke="#000" stroke-width="2.0"/>
<path d="M540.70,844.00 V743.60 H570.10 V844.00" fill="#fff" stroke="#000" stroke-width="2.0"/>
<line x1="601.30" y1="782.80" x2="601.30" y2="787.30" stroke="#000" stroke-width="2.0"/>
<line x1="594.30" y1="782.80" x2="608.30" y2="782.80" stroke="#000" stroke-width="2.0"/>
<rect x="585.00" y="786.30" width="32.60" height="57.70" fill="#000" />
<line x1="532.30" y1="699.80" x2="532.30" y2="844.90" stroke="#000" stroke-width="1.8"/>
<line x1="531.40" y1="844.00" x2="624.20" y2="844.00" stroke="#000" stroke-width="1.8"/>
<line x1="528.30" y1="700.50" x2="532.30" y2="700.50" stroke="#000" stroke-width="1.5"/>
<text x="527.30" y="704.20" font-size="10.2" text-anchor="end" font-weight="bold" font-style="normal" fill="#000" stroke="#000" stroke-width="0.55" textLength="14.50" lengthAdjust="spacingAndGlyphs" >1.5</text>
<line x1="528.30" y1="748.60" x2="532.30" y2="748.60" stroke="#000" stroke-width="1.5"/>
<text x="527.30" y="752.30" font-size="10.2" text-anchor="end" font-weight="bold" font-style="normal" fill="#000" stroke="#000" stroke-width="0.55" textLength="14.50" lengthAdjust="spacingAndGlyphs" >1.0</text>
<line x1="528.30" y1="796.40" x2="532.30" y2="796.40" stroke="#000" stroke-width="1.5"/>
<text x="527.30" y="800.10" font-size="10.2" text-anchor="end" font-weight="bold" font-style="normal" fill="#000" stroke="#000" stroke-width="0.55" textLength="14.50" lengthAdjust="spacingAndGlyphs" >0.5</text>
<line x1="528.30" y1="844.00" x2="532.30" y2="844.00" stroke="#000" stroke-width="1.5"/>
<text x="527.30" y="847.70" font-size="10.2" text-anchor="end" font-weight="bold" font-style="normal" fill="#000" stroke="#000" stroke-width="0.55" textLength="14.50" lengthAdjust="spacingAndGlyphs" >0.0</text>
<line x1="555.40" y1="844.00" x2="555.40" y2="848.00" stroke="#000" stroke-width="1.5"/>
<line x1="601.30" y1="844.00" x2="601.30" y2="848.00" stroke="#000" stroke-width="1.5"/>
<text x="602.00" y="783.22" font-size="14.70" text-anchor="middle" font-weight="bold" stroke="#000" stroke-width="0.5">*</text>
<text x="557.00" y="683.60" font-size="13.2" text-anchor="start" font-weight="bold" font-style="italic" fill="#000" stroke="#000" stroke-width="0.55" textLength="39.20" lengthAdjust="spacingAndGlyphs" >Nfe2l2</text>
<text x="555.40" y="859.60" font-size="10.4" text-anchor="middle" font-weight="bold" font-style="normal" fill="#000" stroke="#000" stroke-width="0.55" textLength="31.30" lengthAdjust="spacingAndGlyphs" >shCtrl</text>
<text x="601.30" y="859.60" font-size="10.4" text-anchor="middle" font-weight="bold" font-style="normal" fill="#000" stroke="#000" stroke-width="0.55" textLength="39.10" lengthAdjust="spacingAndGlyphs" >shNRF2</text>
<text transform="translate(494.80,772.50) rotate(-90)" x="0" y="0" font-size="12.6" text-anchor="middle" font-weight="bold" stroke="#000" stroke-width="0.55" textLength="69.50" lengthAdjust="spacingAndGlyphs">mRNA levels</text>
<text transform="translate(507.00,772.50) rotate(-90)" x="0" y="0" font-size="12.2" text-anchor="middle" font-weight="bold" stroke="#000" stroke-width="0.55" textLength="90.50" lengthAdjust="spacingAndGlyphs">(Fold of change)</text>
</svg>
</body></html>
